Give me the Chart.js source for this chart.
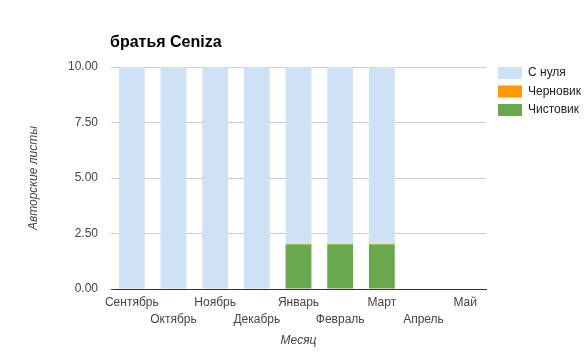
<!DOCTYPE html>
<html><head><meta charset="utf-8">
<script src="https://cdn.jsdelivr.net/npm/chart.js@4"></script>
<style>html,body{margin:0;padding:0;background:#fff}#w{width:586px;height:354px}</style>
</head><body><div id="w"><canvas id="c" width="586" height="354"></canvas></div>
<script>
const categories = ['Сентябрь','Октябрь','Ноябрь','Декабрь','Январь','Февраль','Март','Апрель','Май'];
const fromScratch = [10,10,10,10,7.97,7.97,7.97,0,0];
const draft = [0,0,0,0,0.03,0.03,0.03,0,0];
const finalCopy = [0,0,0,0,2,2,2,0,0];
const yTicks = [0,2.5,5,7.5,10];
const seriesNames = ['С нуля','Черновик','Чистовик'];
const colors = ['#cfe2f3','#ff9900','#6aa84f'];
const chartTitle = 'братья Ceniza';

const FONT = 'Arial, "Liberation Sans", sans-serif';

const overlay = {
  id:'overlay',
  afterDraw(chart){
    const ctx = chart.ctx;
    ctx.save();
    ctx.fillStyle = '#000';
    ctx.font = 'bold 16px ' + FONT;
    ctx.textBaseline = 'alphabetic';
    ctx.textAlign = 'left';
    ctx.fillText(chartTitle, 110, 47);
    ctx.font = '12px ' + FONT;
    ctx.textBaseline = 'middle';
    seriesNames.forEach((n,i)=>{
      const y = 67 + i*18.5;
      ctx.fillStyle = colors[i];
      ctx.fillRect(498, y, 24, 12);
      ctx.fillStyle = '#222';
      ctx.fillText(n, 528, y+6);
    });
    ctx.restore();
  }
};

new Chart(document.getElementById('c'), {
  type:'bar',
  data:{
    labels: categories,
    datasets:[
      {label:seriesNames[2], data:finalCopy, backgroundColor:colors[2]},
      {label:seriesNames[1], data:draft, backgroundColor:colors[1]},
      {label:seriesNames[0], data:fromScratch, backgroundColor:colors[0]}
    ]
  },
  options:{
    responsive:false, animation:false,
    layout:{padding:{top:67,right:100,left:0,bottom:0}},
    datasets:{bar:{categoryPercentage:1, barPercentage:0.62}},
    plugins:{legend:{display:false}, title:{display:false}, tooltip:{enabled:false}},
    scales:{
      x:{
        stacked:true,
        afterFit(s){ s.height = 65; },
        grid:{display:false, drawTicks:false},
        border:{display:true, color:'#333', width:1},
        ticks:{
          autoSkip:false, maxRotation:0, minRotation:0, padding:5,
          color:'#444', font:{family:FONT, size:12, lineHeight:1.4},
          callback(v,i){ const l = categories[i]; return i%2===0 ? [l,''] : ['',l]; }
        },
        title:{display:true, text:'Месяц', color:'#444', font:{family:FONT, size:12, style:'italic'}, padding:{top:0,bottom:6}}
      },
      y:{
        stacked:true, min:0, max:10,
        afterFit(s){ s.width = 111; },
        afterBuildTicks(s){ s.ticks = yTicks.map(v=>({value:v})); },
        border:{display:false},
        grid:{drawTicks:false, color:(c)=> c.tick && c.tick.value===0 ? '#333' : '#ccc'},
        ticks:{padding:13, color:'#444', font:{family:FONT, size:12}, callback:(v)=>Number(v).toFixed(2)},
        title:{display:true, text:'Авторские листы', color:'#444', font:{family:FONT, size:12, style:'italic'}, padding:{top:26}}
      }
    }
  },
  plugins:[overlay]
});
</script>
</body></html>
